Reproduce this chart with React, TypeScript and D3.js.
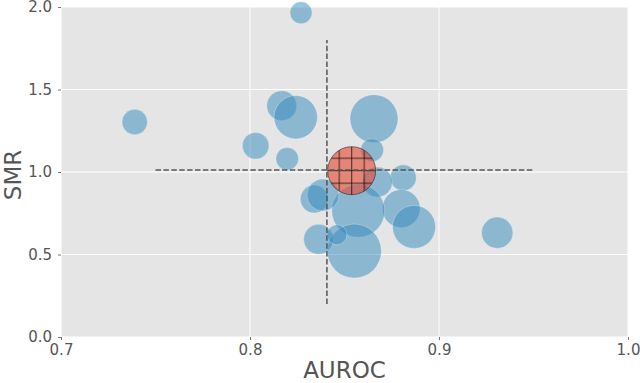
import { useEffect, useRef } from 'react'
import * as d3 from 'd3'

// AUROC / SMR per model, bubble size ~ relative sample size
const auroc = [0.827, 0.739, 0.8168, 0.8242, 0.803, 0.8197, 0.8656, 0.8646, 0.8811, 0.8674,
  0.880, 0.8868, 0.8573, 0.8552, 0.834, 0.8386, 0.8363, 0.846, 0.9308]
const smr = [1.965, 1.303, 1.402, 1.332, 1.159, 1.08, 1.323, 1.133, 0.965, 0.939,
  0.778, 0.667, 0.765, 0.521, 0.836, 0.861, 0.592, 0.62, 0.632]
const sizes = [121, 161, 225, 470, 177, 128, 576, 132, 169, 225,
  361, 462, 702, 729, 196, 256, 225, 100, 246]

const highlight = { auroc: 0.8538, smr: 1.008, size: 576 }

const xTicks = [0.7, 0.8, 0.9, 1.0]
const yTicks = [0.0, 0.5, 1.0, 1.5, 2.0]

const refX = 0.8407
const refY = 1.012

const App = () => {
  const svgRef = useRef<SVGSVGElement>(null)

  useEffect(() => {
    if (!svgRef.current) return
    const width = 640
    const height = 383
    const margin = { top: 7, right: 12, bottom: 46, left: 61 }
    const w = width - margin.left - margin.right
    const h = height - margin.top - margin.bottom

    const svg = d3.select(svgRef.current)
    svg.selectAll('*').remove()
    svg.attr('width', width).attr('height', height)

    const x = d3.scaleLinear().domain([0.7, 1.0]).range([0, w])
    const y = d3.scaleLinear().domain([0, 2.0]).range([h, 0])
    const r = d3.scaleSqrt().domain([0, 729]).range([0, 27])

    const defs = svg.append('defs')
    const cx = x(highlight.auroc)
    const cy = y(highlight.smr)
    const pat = defs.append('pattern')
      .attr('id', 'hatch')
      .attr('patternUnits', 'userSpaceOnUse')
      .attr('width', 12.5)
      .attr('height', 12.5)
      .attr('patternTransform', `translate(${cx - 0.6},${cy - 0.6})`)
    pat.append('rect').attr('width', 12.5).attr('height', 12.5).attr('fill', '#E24A33').attr('fill-opacity', 0.62)
    pat.append('rect').attr('x', 0).attr('y', 0).attr('width', 1.2).attr('height', 12.5).attr('fill', 'rgba(0,0,0,0.6)')
    pat.append('rect').attr('x', 0).attr('y', 0).attr('width', 12.5).attr('height', 1.2).attr('fill', 'rgba(0,0,0,0.6)')

    const g = svg.append('g').attr('transform', `translate(${margin.left},${margin.top})`)

    g.append('rect').attr('width', w).attr('height', h).attr('fill', '#E5E5E5')

    // grid
    g.selectAll('.vgrid').data(xTicks).enter().append('line')
      .attr('x1', d => x(d)).attr('x2', d => x(d)).attr('y1', 0).attr('y2', h)
      .attr('stroke', '#fff').attr('stroke-width', 1)
    g.selectAll('.hgrid').data(yTicks).enter().append('line')
      .attr('y1', d => y(d)).attr('y2', d => y(d)).attr('x1', 0).attr('x2', w)
      .attr('stroke', '#fff').attr('stroke-width', 1)

    const data = auroc.map((a, i) => ({ a, s: smr[i], n: sizes[i] }))

    g.selectAll('.pt').data(data).enter().append('circle')
      .attr('cx', d => x(d.a)).attr('cy', d => y(d.s)).attr('r', d => r(d.n))
      .attr('fill', '#348ABD').attr('fill-opacity', 0.5)
      .attr('stroke', '#fff').attr('stroke-opacity', 0.35).attr('stroke-width', 0.8)

    g.append('circle')
      .attr('cx', cx).attr('cy', cy).attr('r', r(highlight.size))
      .attr('fill', 'url(#hatch)')
      .attr('stroke', 'rgba(60,30,30,0.6)').attr('stroke-width', 1)

    // reference lines
    g.append('line')
      .attr('x1', x(0.75)).attr('x2', x(0.95)).attr('y1', y(refY)).attr('y2', y(refY))
      .attr('stroke', '#555').attr('stroke-width', 1.5).attr('stroke-dasharray', '5.5,2.4')
    g.append('line')
      .attr('x1', x(refX)).attr('x2', x(refX)).attr('y1', y(0.2)).attr('y2', y(1.8))
      .attr('stroke', '#555').attr('stroke-width', 1.5).attr('stroke-dasharray', '5.5,2.4')

    // axes
    const xAxis = g.append('g').attr('transform', `translate(0,${h})`)
      .call(d3.axisBottom(x).tickValues(xTicks).tickFormat(d3.format('.1f')).tickSize(3).tickPadding(4))
    const yAxis = g.append('g')
      .call(d3.axisLeft(y).tickValues(yTicks).tickFormat(d3.format('.1f')).tickSize(3).tickPadding(6))
    for (const ax of [xAxis, yAxis]) {
      ax.select('.domain').remove()
      ax.selectAll('.tick line').attr('stroke', '#555').attr('stroke-width', 0.8)
      ax.selectAll('text').attr('fill', '#555').attr('font-size', '15px')
        .attr('font-family', 'DejaVu Sans, sans-serif')
    }

    svg.append('text')
      .attr('x', margin.left + w / 2).attr('y', 378)
      .attr('text-anchor', 'middle').attr('fill', '#555')
      .attr('font-size', '23px').attr('font-family', 'DejaVu Sans, sans-serif')
      .text('AUROC')
    svg.append('text')
      .attr('transform', `translate(21,${margin.top + h / 2 + 3}) rotate(-90)`)
      .attr('text-anchor', 'middle').attr('fill', '#555')
      .attr('font-size', '23px').attr('font-family', 'DejaVu Sans, sans-serif')
      .text('SMR')
  }, [])

  return (
    <div style={{ position: 'absolute', left: 0, top: 0 }}>
      <svg ref={svgRef} style={{ display: 'block' }}></svg>
    </div>
  )
}

export default App
